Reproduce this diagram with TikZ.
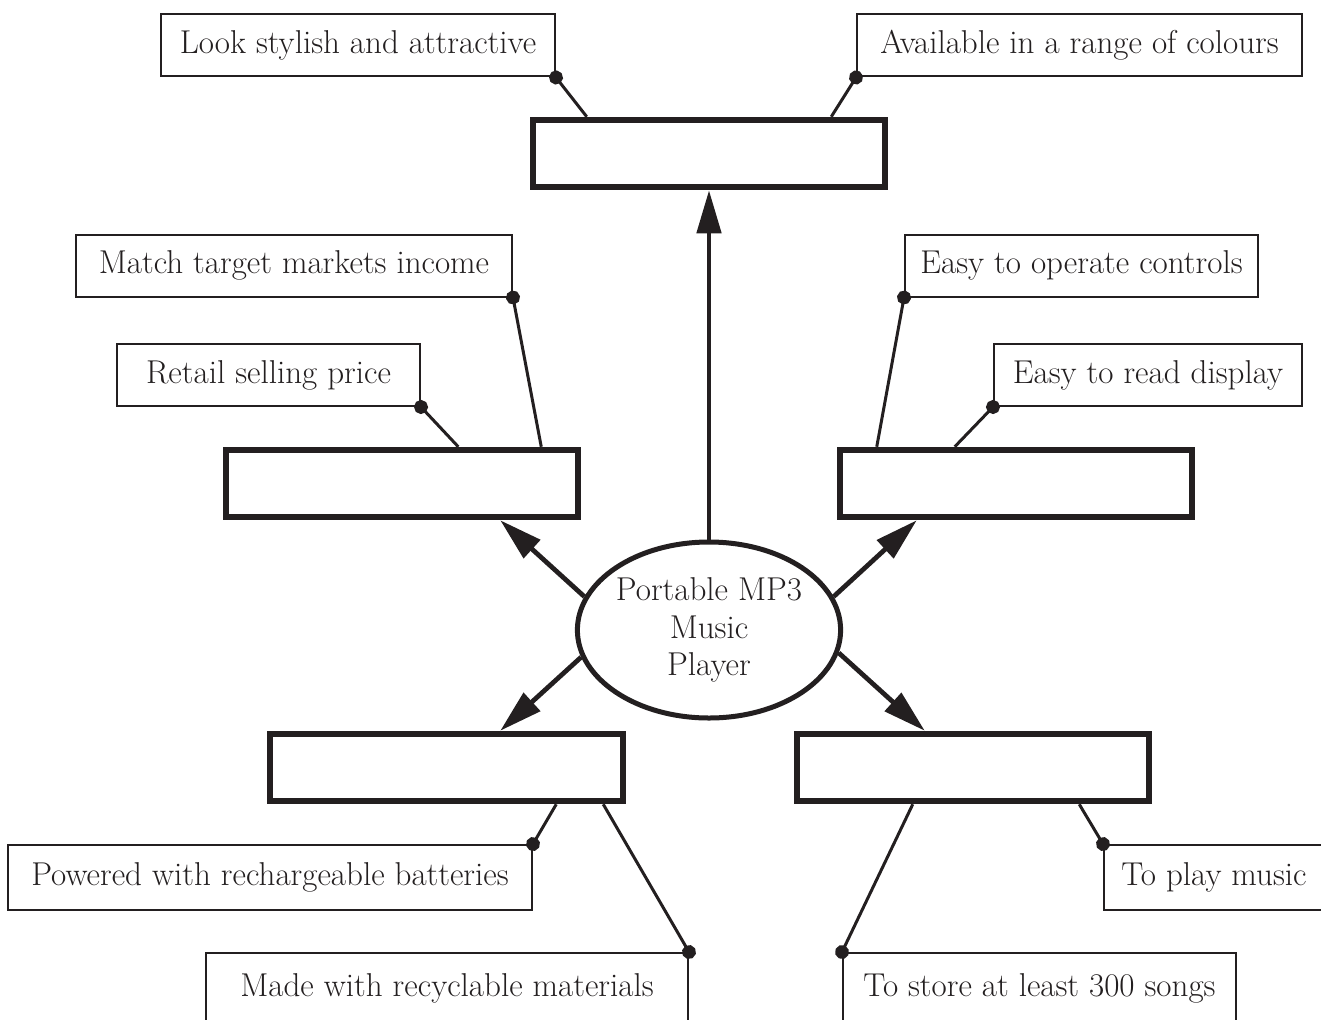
\documentclass[tikz,border=0pt]{standalone}
\usepackage{tikz}
\usetikzlibrary{positioning,arrows.meta,shapes.geometric}
\definecolor{ink}{HTML}{231F20}
\tikzset{
  flowarrow/.style={-{Triangle[length=0.86cm, width=0.48cm]}, line width=0.095cm, draw=ink},
  blankbox/.style={draw=ink, line width=0.13cm, fill=white, minimum width=7.04cm, minimum height=1.34cm},
  labelbox/.style={draw=ink, line width=0.04cm, fill=white, minimum height=1.24cm, inner sep=0pt, align=center, text=ink},
  hub/.style={draw=ink, ellipse, line width=0.1cm, fill=white, minimum width=5.2cm, minimum height=3.52cm, inner sep=0pt, align=center, text=ink},
  pinline/.style={{Circle[length=0.28cm]}-, shorten <=-0.14cm, line width=0.06cm, draw=ink, fill=ink}
}

\begin{document}
\begin{tikzpicture}[every node/.style={font=\fontsize{18.8}{21.5}\selectfont}]
  \useasboundingbox (0,0) rectangle (26.42,-20.38);
  \clip (0,0) rectangle (26.42,-20.38);

  % centre and the five blank boxes
  \node[hub] (mp3) at (14.18,-12.6) {Portable MP3\\Music\\Player};
  \node[blankbox] (topb) at (14.18,-3.07) {};
  \node[blankbox] (leftb) at (8.04,-9.67) {};
  \node[blankbox] (rightb) at (20.32,-9.67) {};
  \node[blankbox, minimum width=7.06cm] (botl) at (8.93,-15.35) {};
  \node[blankbox] (botr) at (19.46,-15.35) {};

  % label boxes
  \node[labelbox, minimum width=7.88cm] (look) at (7.16,-0.91) {Look stylish and attractive};
  \node[labelbox, minimum width=8.90cm] (avail) at (21.59,-0.91) {Available in a range of colours};
  \node[labelbox, minimum width=8.72cm] (match) at (5.88,-5.31) {Match target markets income};
  \node[labelbox, minimum width=6.06cm] (retail) at (5.37,-7.5) {Retail selling price};
  \node[labelbox, minimum width=7.06cm] (operate) at (21.63,-5.31) {Easy to operate controls};
  \node[labelbox, minimum width=6.16cm] (read) at (22.96,-7.5) {Easy to read display};
  \node[labelbox, minimum width=10.48cm, minimum height=1.3cm] (powered) at (5.40,-17.55) {Powered with rechargeable batteries};
  \node[labelbox, minimum width=9.64cm, minimum height=1.4cm] (made) at (8.94,-19.76) {Made with recyclable materials};
  \node[labelbox, minimum width=4.40cm, minimum height=1.3cm] (play) at (24.28,-17.55) {To play music};
  \node[labelbox, minimum width=7.86cm, minimum height=1.4cm] (store) at (20.79,-19.76) {To store at least 300 songs};

  % arrows out of the centre
  \draw[flowarrow] (mp3.north) -- (topb.south);
  \draw[flowarrow] (mp3.165) -- ([xshift=-1.62cm]leftb.south east);
  \draw[flowarrow] (mp3.15) -- ([xshift=1.60cm]rightb.south west);
  \draw[flowarrow] (mp3.192) -- ([xshift=-2.52cm]botl.north east);
  \draw[flowarrow] (mp3.350) -- ([xshift=2.62cm]botr.north west);

  % pins from labels to boxes
  \draw[pinline] (look.south east) -- ([xshift=1.14cm]topb.north west);
  \draw[pinline] (avail.south west) -- ([xshift=-1.14cm]topb.north east);
  \draw[pinline] (match.south east) -- ([xshift=-0.80cm]leftb.north east);
  \draw[pinline] (retail.south east) -- ([xshift=-2.46cm]leftb.north east);
  \draw[pinline] (operate.south west) -- ([xshift=0.80cm]rightb.north west);
  \draw[pinline] (read.south west) -- ([xshift=2.36cm]rightb.north west);
  \draw[pinline] (powered.north east) -- ([xshift=-1.40cm]botl.south east);
  \draw[pinline] (made.north east) -- ([xshift=-0.46cm]botl.south east);
  \draw[pinline] (store.north west) -- ([xshift=2.38cm]botr.south west);
  \draw[pinline] (play.north west) -- ([xshift=-1.46cm]botr.south east);
\end{tikzpicture}
\end{document}
